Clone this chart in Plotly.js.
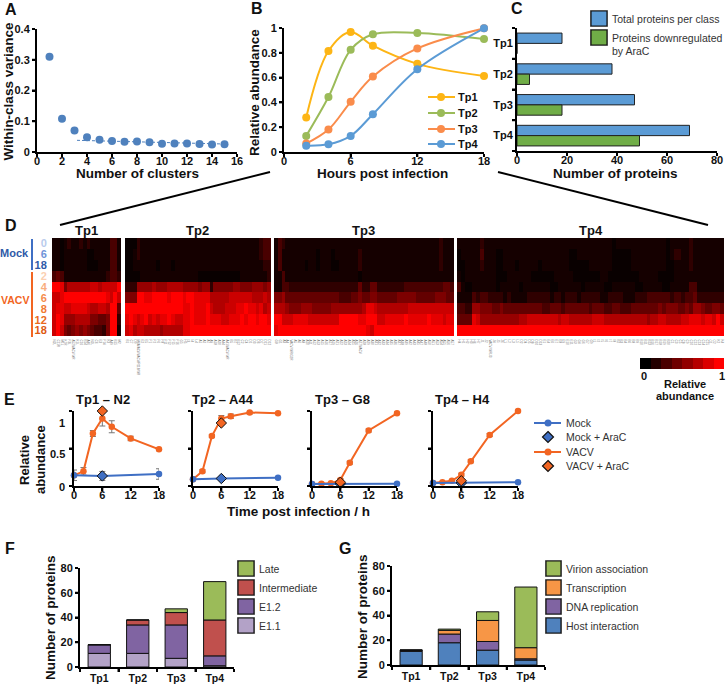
<!DOCTYPE html>
<html><head><meta charset="utf-8">
<script src="https://cdn.plot.ly/plotly-3.0.1.min.js"></script>
<style>html,body{margin:0;padding:0;background:#fff}#c{width:726px;height:685px}</style>
</head><body><div id="c"></div>
<script>
// ---------- Panel A
const clusters=[1,2,3,4,5,6,7,8,9,10,11,12,13,14,15];
const variance=[0.31,0.108,0.07,0.048,0.04,0.036,0.033,0.034,0.032,0.027,0.028,0.028,0.026,0.024,0.025];
const trendX=[3.2,15], trendY=[0.038,0.026];
// ---------- Panel B
const hours=[2,4,6,8,12,18];
const bTp1=[0.278,0.814,0.968,0.857,0.711,0.613];
const bTp2=[0.13,0.443,0.824,0.949,0.96,0.911];
const bTp3=[0.068,0.181,0.405,0.608,0.835,0.997];
const bTp4=[0.051,0.062,0.13,0.305,0.668,0.997];
// ---------- Panel C
const classes=['Tp1','Tp2','Tp3','Tp4'];
const totalProteins=[18,38,47,69];
const downAraC=[0,5,18,49];
// ---------- Panel D (tenths of relative abundance, a = 10; rows: Mock 0,6,18 / VACV 2,4,6,8,12,18)
const rowLabels=['0','6','18','2','4','6','8','12','18'];
const rowColors=['#b9cbec','#6f93d8','#2f5aa8','#fbd0b2','#f9ae7e','#f58c4c','#f17a33','#e96a20','#de5a12'];
const heatTp1=[
"1101211212 11111331","1101111110 01111331","1101111110 00111331",
"3431111111 11112332","aa95777777 8878888a","889aaaaaaa aaaa98a8",
"8998899998 77887aa4","8a96667777 55445aa2","8a85456565 43325aa1"];
const heatTp2=[
"0002111111 1111111111 1111111111 11111233","0012111111 1111111111 1111111111 11111233","0011111101 1101111111 1111111111 11111122",
"0000111111 1111111110 0000000000 11111112","2226666766 6777766665 6625555566 55566656","555aa99aaa a9aaa9aa99 9977777888 88877787",
"aaaaaaaaaa aaaaa99a99 9a87778889 9a998978","9a989a8989 9a98899a99 9a99988999 a9aa9aa9","8978877776 7777799aaa aaaaaaaaaa aaaaaaaa"];
const heatTp3=[
"1321111111 1111111111 1111111111 1111111111 1112111","1311111111 1011101111 1121111111 1111111111 1112111","1311111101 1011100111 1121111111 1111111111 1112111",
"1131111111 1111111111 1101111111 1111111111 1111111","1133222222 2222222222 2242244222 2222333333 3333443","5564444444 4444444333 4454455444 4455555444 4455544",
"7776555666 5555566666 6667998777 7777788888 8888888","aa88899998 8888888aaa aa99aaa889 9999a99999 a999899","9aaaaaaaaa aaaaaaaaaa aaaa98aaaa aaaaaaaaaa aaaaaaa"];
const heatTp4=[
"1111112111 1111111111 1111111111 1111111111 0111111111 1111011111 211111111","0111113111 0011111111 1111111110 0111111111 0000011111 1111012211 211111111","0011112111 0011101111 1011111110 0000111111 0000011111 1111001111 211111111",
"1011111111 0001111110 0000011111 0000000110 0000000111 1100001111 111111111","3100111111 0111110111 1111001111 1101111100 1111110011 1110011111 331111111","1111323322 2212111122 2222122122 2122222112 2221112223 3333323323 342222222",
"3322665554 4544444444 4433444344 4444344433 4433344444 4454555445 466544554","4444986666 6666667788 8888887887 7777788877 7777777776 7788777788 9998998a8","aaaaaaaaaa aaaaaaaaaa aaaaaaaaaa aaaaaaaaaa aaaaaaaaaa aaaaaaaaaa aaaaaaaaa"];
const geneTp1="N2L C11R M1L K7R F3L A52/VACV-WR K1L C16 B14 A46 N1L C6 E3 F14 K3 A49 B15 M2".split(" ");
const geneTp2="B1 C7 D9 MVA/ACV/VACWR118/WR E2 E5 F1 F2 F6 F8 F11 F12 F15 F16 G5 H5 I3 I4 L4 A1 A2 A7 A9 A18 A20 A44 A41/VACV-WR B5 B7 B12 C2 C4 D1 D3 D6 D7 D11 D12".split(" ");
const geneTp3="G8 G1 A3 A4 VACV-WR/G2R A5 A6 A8 A10 A11 A12 A13 A15 A16 A17 A19 A21 A22 A23 A24 A25 A26 A27/VACV A28 A29 A30 A31 A32 A33 A34 A35 A36 A37 A38 A39 A42 A43 A45 A47 A48 A50 A51 A53 A54 A55 A56 A57".split(" ");
const geneTp4="H4 H1 H2 H3 H6 H7 J1 J2 VACV-WR/J3 J4 J5 J6 L1 L2 L3 L5 D2 D4 D5 D8 D10 D13 E1 E4 E6 E7 E8 E9 E10 E11 G3 G4 G6 G7 G9 I1 I2 I5 I6 I7 I8 B2 B3 B4 B6 B8 B9 B10 B11 B13 B16 B17 B18 B19 B20 C1 C3 C5 C8 C9 C10 C12 C13 C14 C15 O1 O2 K2 K4".split(" ");
const scaleLevels=[0,0.14,0.29,0.43,0.57,0.71,0.86,1];
// ---------- Panel E
const tAll=[0,2,4,6,8,12,18];
const tMock=[0,6,18];
const tDrug=[6];
const n2Vacv=[0.143,0.196,0.70,0.90,0.79,0.634,0.49], n2VacvErr=[0.02,0.05,0.04,0.1,0.08,0.03,0.02];
const n2Mock=[0.143,0.134,0.16], n2MockErr=[0.07,0.06,0.07];
const n2DrugV=[1.0], n2DrugM=[0.134];
const a44Vacv=[0.09,0.196,0.665,0.90,0.93,0.98,0.97], a44VacvErr=[0.01,0.02,0.02,0.04,0.03,0.02,0.01];
const a44Mock=[0.09,0.10,0.11], a44MockErr=[0.01,0.01,0.01];
const a44DrugV=[0.84], a44DrugM=[0.10];
const g8Vacv=[0.025,0.03,0.035,0.08,0.31,0.74,0.97], g8VacvErr=[0.01,0.01,0.01,0.02,0.02,0.02,0.03];
const g8Mock=[0.025,0.025,0.03], g8MockErr=[0.01,0.01,0.01];
const g8DrugV=[0.05], g8DrugM=[0.03];
const h4Vacv=[0.04,0.05,0.07,0.15,0.33,0.68,1.0], h4VacvErr=[0.01,0.01,0.01,0.02,0.02,0.02,0.03];
const h4Mock=[0.04,0.04,0.05], h4MockErr=[0.01,0.01,0.01];
const h4DrugV=[0.07], h4DrugM=[0.04];
// ---------- Panel F
const fE11=[11,11,7,1], fE12=[7,23,27,8], fInter=[0,4,10,29], fLate=[0,0,3,31];
// ---------- Panel G
const gHost=[11,18,12,4], gDna=[1,7,7,1], gTrans=[0,3,17,9], gVirion=[0,1,7,49];

const W=726,H=685,FF='Liberation Sans, Arial, sans-serif';
const BOLD=(s)=>({family:FF,size:s,color:'#111',weight:700});
const REG=(s)=>({family:FF,size:s,color:'#333'});
const dx=(a,b)=>[a/W,b/W], dy=(top,bot)=>[1-bot/H,1-top/H];
const C={a:'#4f81bd',t1:'#fdb515',t2:'#9bbb59',t3:'#fa8c4b',t4:'#5b9bd5',barB:'#5b9bd5',barG:'#70ad47',
  vacv:'#f26522',mock:'#3f6fc4',e11:'#b3a2c7',e12:'#8064a2',inter:'#c0504d',late:'#9bbb59',host:'#4f81bd',trans:'#f79646'};
const axis=(o)=>Object.assign({showgrid:false,zeroline:false,showline:true,linecolor:'#000',linewidth:2,ticks:'outside',ticklen:3,tickwidth:2,tickcolor:'#000',tickfont:BOLD(11),fixedrange:true},o);
const hidden=(o)=>Object.assign({showgrid:false,zeroline:false,showline:false,ticks:'',showticklabels:false,fixedrange:true},o);

const traces=[],layout={width:W,height:H,margin:{l:0,r:0,t:0,b:0},paper_bgcolor:'#fff',plot_bgcolor:'rgba(0,0,0,0)',showlegend:false,font:{family:FF},barmode:'overlay',annotations:[],shapes:[]};
let n=0;
function sub(xa,ya){n++;const k=n===1?'':n;layout['xaxis'+k]=Object.assign(xa,{anchor:'y'+k});layout['yaxis'+k]=Object.assign(ya,{anchor:'x'+k});return {xaxis:'x'+k,yaxis:'y'+k};}
function add(sp,arr){arr.forEach(t=>traces.push(Object.assign(t,sp,{cliponaxis:false})));}
function text(x,y,s,font,opt){layout.annotations.push(Object.assign({xref:'paper',yref:'paper',x:x/W,y:1-y/H,text:s,font:font,showarrow:false,xanchor:'left',yanchor:'middle',borderpad:0},opt||{}));}
function line(x0,y0,x1,y1,color,w){layout.shapes.push({type:'line',xref:'paper',yref:'paper',layer:'above',x0:x0/W,x1:x1/W,y0:1-y0/H,y1:1-y1/H,line:{color:color,width:w}});}
function swatch(x0,y0,x1,y1,fill){
  layout.shapes.push({type:'rect',xref:'paper',yref:'paper',x0:(x0-1)/W,x1:(x1+1)/W,y0:1-(y1+1)/H,y1:1-(y0-1)/H,fillcolor:'#999',line:{width:0}});
  layout.shapes.push({type:'rect',xref:'paper',yref:'paper',x0:x0/W,x1:x1/W,y0:1-y1/H,y1:1-y0/H,fillcolor:fill,line:{color:'#111',width:1.2}});
}
function dot(cx,cy,r,fill){layout.shapes.push({type:'circle',xref:'paper',yref:'paper',x0:(cx-r)/W,x1:(cx+r)/W,y0:1-(cy+r)/H,y1:1-(cy-r)/H,fillcolor:fill,line:{width:0}});}
function diamond(cx,cy,r,fill){layout.shapes.push({type:'path',xref:'paper',yref:'paper',path:`M${cx/W},${1-(cy-r)/H}L${(cx+r)/W},${1-cy/H}L${cx/W},${1-(cy+r)/H}L${(cx-r)/W},${1-cy/H}Z`,fillcolor:fill,line:{color:'#111',width:1.2}});}
const xTitle=(x,y,s)=>text(x,y,s,BOLD(13.5),{xanchor:'center'});
const yTitle=(x,y,s)=>text(x,y,s,BOLD(13.5),{xanchor:'center',textangle:-90});
const LS=-5;
// axis frame
function frame(x0,x1,top,bot,xr,xticks,yr,yticks){
  line(x0-2,bot+1,x1,bot+1,'#000',2);
  line(x0-1,top,x0-1,bot+2,'#000',2);
  xticks.forEach(v=>{const p=x0+(v-xr[0])/(xr[1]-xr[0])*(x1-x0);line(p,bot+2,p,bot+5,'#000',2);});
  yticks.forEach(v=>{const p=bot-(v-yr[0])/(yr[1]-yr[0])*(bot-top);line(x0-5,p,x0-2,p,'#000',2);});
}
const catEdges=[-0.5,0.5,1.5,2.5,3.5];

// A
add(sub(axis({domain:dx(37,237),range:[0,16],tickvals:[0,2,4,6,8,10,12,14,16],ticklabelstandoff:LS}),
        axis({domain:dy(29,152),range:[0,0.4],tickvals:[0,0.1,0.2,0.3,0.4]})),[
  {type:'scatter',mode:'lines',x:trendX,y:trendY,line:{color:C.a,width:1,dash:'3px,2px'}},
  {type:'scatter',mode:'markers',x:clusters,y:variance,marker:{color:C.a,size:8}}]);
frame(37,237,29,152,[0,16],[0,2,4,6,8,10,12,14,16],[0,0.4],[0,0.1,0.2,0.3,0.4]);
xTitle(137,174,'Number of clusters');yTitle(7.5,92,'Within-class variance');

// B
const bs=(y,c,name)=>({type:'scatter',mode:'lines+markers',name:name,x:hours,y:y,line:{color:c,width:2,shape:'spline',smoothing:1},marker:{color:c,size:8}});
add(sub(axis({domain:dx(284,484),range:[0,18],tickvals:[0,6,12,18],ticklabelstandoff:LS}),
        axis({domain:dy(28,152),range:[0,1],tickvals:[0,0.2,0.4,0.6,0.8,1]})),[
  bs(bTp1,C.t1,'Tp1'),bs(bTp2,C.t2,'Tp2'),bs(bTp3,C.t3,'Tp3'),bs(bTp4,C.t4,'Tp4')]);
frame(284,484,28,152,[0,18],[0,6,12,18],[0,1],[0,0.2,0.4,0.6,0.8,1]);
xTitle(383,174,'Hours post infection');yTitle(255,93,'Relative abundance');
[['Tp1',C.t1,97],['Tp2',C.t2,113],['Tp3',C.t3,129],['Tp4',C.t4,144]].forEach(r=>{
  line(428,r[2],455,r[2],r[1],2);dot(441,r[2],4,r[1]);text(457,r[2],r[0],BOLD(11));});

// C
add(sub(axis({domain:dx(517,717),range:[0,80],tickvals:[0,20,40,60,80],ticklabelstandoff:LS}),
        axis({domain:dy(28,151),type:'category',categoryorder:'array',categoryarray:classes,range:[3.5,-0.5],tickson:'boundaries'})),[
  {type:'bar',orientation:'h',name:'Total proteins per class',y:classes,x:totalProteins,marker:{color:C.barB,line:{color:'#222',width:1}},width:0.335,offset:-0.335},
  {type:'bar',orientation:'h',name:'Proteins downregulated by AraC',y:classes,x:downAraC,marker:{color:C.barG,line:{color:'#222',width:1}},width:0.335,offset:0}]);
frame(517,717,28,151,[0,80],[0,20,40,60,80],[-0.5,3.5],catEdges);
xTitle(615,174,'Number of proteins');
swatch(591,11,607,26,C.barB);swatch(591,30,607,45,C.barG);
text(611,19,'Total proteins per class',REG(10.5));
text(611,38,'Proteins downregulated',REG(10.5));
text(611,51,'by AraC',REG(10.5));

// funnel lines
line(60,225,270,172,'#000',2);line(498,172,708,225,'#000',2);

// D
const heatScale=[[0,'#090000'],[0.1,'#150000'],[1,'#ff0000']];
function heat(rows,genes,x0,x1,title,first){
  const z=rows.map(r=>r.replace(/ /g,'').split('').map(c=>parseInt(c,16)/10));
  const xs=genes.map((g,i)=>i);
  const ya=hidden({domain:dy(238,336),range:[8.5,-0.5]});
  if(first){Object.assign(ya,{showticklabels:true,tickmode:'array',tickvals:rowLabels.map((l,i)=>i),
    ticktext:rowLabels.map((l,i)=>`<span style="color:${rowColors[i]}">${l}</span>`),tickfont:BOLD(11),ticklen:2,ticks:'outside',tickcolor:'rgba(0,0,0,0)'});}
  add(sub(hidden({domain:dx(x0,x1),range:[-0.5,genes.length-0.5],showticklabels:true,tickmode:'array',tickvals:xs,ticktext:genes,tickangle:90,tickfont:{family:FF,size:3,color:'#777'},ticklen:2,ticks:'outside',tickcolor:'rgba(0,0,0,0)'}),ya),
    [{type:'heatmap',z:z,x:xs,y:rowLabels.map((l,i)=>i),zmin:0,zmax:1,showscale:false,colorscale:heatScale}]);
  text((x0+x1)/2,230,title,BOLD(13),{xanchor:'center'});
}
heat(heatTp1,geneTp1,52,121,'Tp1',true);
heat(heatTp2,geneTp2,125,271,'Tp2');
heat(heatTp3,geneTp3,274,454,'Tp3');
heat(heatTp4,geneTp4,457,724,'Tp4');
add(sub(hidden({domain:dx(640,724),range:[-0.5,7.5]}),hidden({domain:dy(358,369),range:[-0.5,0.5]})),
  [{type:'heatmap',z:[scaleLevels],zmin:0,zmax:1,showscale:false,colorscale:[[0,'#000000'],[1,'#ff0000']]}]);
text(644,376,'0',BOLD(11),{xanchor:'center'});text(722,376,'1',BOLD(11),{xanchor:'center'});
text(685,384,'Relative',BOLD(11),{xanchor:'center'});text(685,396,'abundance',BOLD(11),{xanchor:'center'});
line(32,239,32,270,'#3f6fc4',2);line(32,272,32,337,'#f26522',2);
text(30,253,'Mock',Object.assign(BOLD(11),{color:'#2f5aa8'}),{xanchor:'right'});
text(30,300,'VACV',Object.assign(BOLD(10.5),{color:'#f26522'}),{xanchor:'right'});

// E
function timecourse(x0,vac,vacErr,mock,mockErr,dv,dm){
  add(sub(axis({domain:dx(x0,x0+85),range:[0,18],tickvals:[0,6,12,18],ticklabelstandoff:LS}),
          axis({domain:dy(411,486),range:[0,1],tickvals:[0,0.5,1],showticklabels:false})),[
    {type:'scatter',mode:'lines+markers',x:tAll,y:vac,line:{color:C.vacv,width:2},marker:{color:C.vacv,size:6.5},error_y:{type:'data',array:vacErr,color:'#777',thickness:1,width:3}},
    {type:'scatter',mode:'lines+markers',x:tMock,y:mock,line:{color:C.mock,width:2},marker:{color:C.mock,size:6.5},error_y:{type:'data',array:mockErr,color:'#777',thickness:1,width:3}},
    {type:'scatter',mode:'markers',x:tDrug,y:dm,marker:{color:C.mock,size:8,symbol:'diamond',line:{color:'#111',width:1}}},
    {type:'scatter',mode:'markers',x:tDrug,y:dv,marker:{color:C.vacv,size:8,symbol:'diamond',line:{color:'#111',width:1}}}]);
  frame(x0,x0+85,411,486,[0,18],[0,6,12,18],[0,1],[0,0.5,1]);
}
timecourse(74,n2Vacv,n2VacvErr,n2Mock,n2MockErr,n2DrugV,n2DrugM);
timecourse(193,a44Vacv,a44VacvErr,a44Mock,a44MockErr,a44DrugV,a44DrugM);
timecourse(312,g8Vacv,g8VacvErr,g8Mock,g8MockErr,g8DrugV,g8DrugM);
timecourse(433,h4Vacv,h4VacvErr,h4Mock,h4MockErr,h4DrugV,h4DrugM);
[['Tp1 – N2',103],['Tp2 – A44',223],['Tp3 – G8',342],['Tp4 – H4',463]].forEach(r=>text(r[1],400,r[0],BOLD(13),{xanchor:'center'}));
[['1',423],['0.5',454],['0',487]].forEach(r=>text(66,r[1],r[0],BOLD(11),{xanchor:'right'}));
text(25,460,'Relative',BOLD(13),{xanchor:'center',textangle:-90});
text(41,460,'abundance',BOLD(13),{xanchor:'center',textangle:-90});
xTitle(298,512,'Time post infection / h');
line(534,423,561,423,C.mock,2);dot(548,423,3.5,C.mock);text(565,423,'Mock',REG(10.5));
diamond(548,437,5.5,C.mock);text(565,437,'Mock + AraC',REG(10.5));
line(534,452,561,452,C.vacv,2);dot(548,452,3.5,C.vacv);text(565,452,'VACV',REG(10.5));
diamond(548,466,5.5,C.vacv);text(565,466,'VACV + AraC',REG(10.5));

// F, G
function stack(x0,x1,top,bot,series){
  const sp=sub(axis({domain:dx(x0,x1),type:'category',categoryorder:'array',categoryarray:classes,range:[-0.5,3.5],tickson:'boundaries',tickfont:BOLD(10.5)}),
               axis({domain:dy(top,bot),range:[0,80],tickvals:[0,20,40,60,80]}));
  const cum=[0,0,0,0];
  add(sp,series.map(s=>{
    const base=cum.slice();s[1].forEach((v,i)=>cum[i]+=v);
    return {type:'bar',name:s[0],x:classes,y:s[1],base:base,width:0.58,marker:{color:s[2],line:{color:'#111',width:1}}};}));
  frame(x0,x1,top,bot,[-0.5,3.5],catEdges,[0,80],[0,20,40,60,80]);
}
stack(80,234,568,667,[['E1.1',fE11,C.e11],['E1.2',fE12,C.e12],['Intermediate',fInter,C.inter],['Late',fLate,C.late]]);
stack(392,545,566,665,[['Host interaction',gHost,C.host],['DNA replication',gDna,C.e12],['Transcription',gTrans,C.trans],['Virion association',gVirion,C.late]]);
yTitle(50,618,'Number of proteins');yTitle(362,617,'Number of proteins');
[['Late',C.late,561],['Intermediate',C.inter,580],['E1.2',C.e12,599],['E1.1',C.e11,618]].forEach(r=>{swatch(238,r[2],254,r[2]+15,r[1]);text(258,r[2]+7.5,r[0],REG(10.5));});
[['Virion association',C.late,561],['Transcription',C.trans,580],['DNA replication',C.e12,599],['Host interaction',C.host,618]].forEach(r=>{swatch(546,r[2],561,r[2]+15,r[1]);text(565,r[2]+7.5,r[0],REG(10.5));});

// panel letters
[['A',4,9],['B',250,8],['C',510,8],['D',4,226],['E',3,400],['F',4,548],['G',338,548]].forEach(r=>text(r[1],r[2],r[0],BOLD(16)));

Plotly.newPlot('c',traces,layout,{displayModeBar:false,staticPlot:true});
</script></body></html>
